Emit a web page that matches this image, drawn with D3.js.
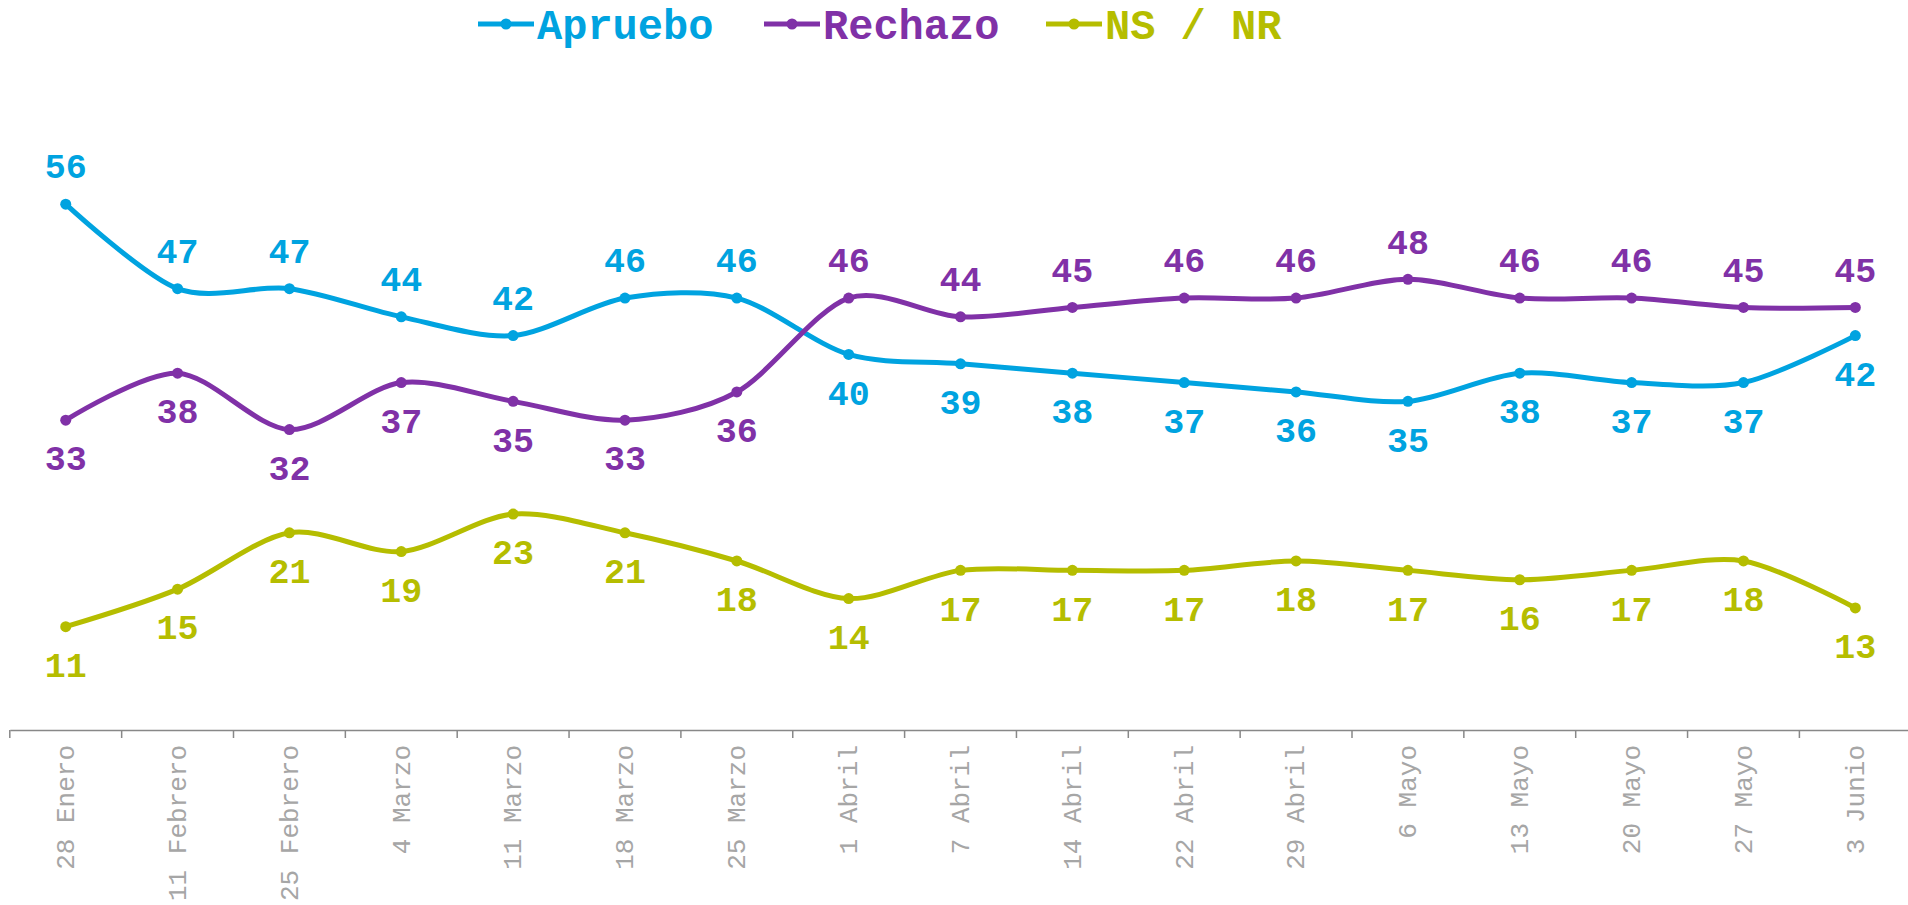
<!DOCTYPE html>
<html>
<head>
<meta charset="utf-8">
<script src="https://cdn.jsdelivr.net/npm/d3@7"></script>
<style>
  body { margin: 0; background: #fff; }
  svg { display: block; }
  text { font-family: "Liberation Mono", "Courier New", monospace; }
</style>
</head>
<body>
<svg width="1908" height="905"></svg>
<script>
var fechas = ["28 Enero", "11 Febrero", "25 Febrero", "4 Marzo", "11 Marzo", "18 Marzo", "25 Marzo",
  "1 Abril", "7 Abril", "14 Abril", "22 Abril", "29 Abril", "6 Mayo", "13 Mayo", "20 Mayo", "27 Mayo", "3 Junio"];
var apruebo = [56, 47, 47, 44, 42, 46, 46, 40, 39, 38, 37, 36, 35, 38, 37, 37, 42];
var rechazo = [33, 38, 32, 37, 35, 33, 36, 46, 44, 45, 46, 46, 48, 46, 46, 45, 45];
var nsnr = [11, 15, 21, 19, 23, 21, 18, 14, 17, 17, 17, 18, 17, 16, 17, 18, 13];

// label above (1) or below (-1) the point
var aprueboPos = [1, 1, 1, 1, 1, 1, 1, -1, -1, -1, -1, -1, -1, -1, -1, -1, -1];
var rechazoPos = [-1, -1, -1, -1, -1, -1, -1, 1, 1, 1, 1, 1, 1, 1, 1, 1, 1];
var nsnrPos = [-1, -1, -1, -1, -1, -1, -1, -1, -1, -1, -1, -1, -1, -1, -1, -1, -1];

var series = [
  { name: "Apruebo", values: apruebo, pos: aprueboPos, color: "#00a3e0" },
  { name: "Rechazo", values: rechazo, pos: rechazoPos, color: "#8031a7" },
  { name: "NS / NR", values: nsnr, pos: nsnrPos, color: "#b5bd00" }
];

var svg = d3.select('svg');

var scaleX = d3.scaleBand().domain(fechas).range([9.8, 9.8 + 17 * 111.85]);
var scaleY = d3.scaleLinear().domain([0, 60]).range([730, 730 - 60 * 9.39]);

function cx(i) { return scaleX(fechas[i]) + scaleX.bandwidth() / 2; }

// x axis
var axis = svg.append('g')
  .attr('transform', 'translate(0,730)')
  .call(d3.axisBottom(scaleX).tickSize(0).tickPadding(0));
axis.select('.domain').attr('stroke', '#888').attr('stroke-width', 1.5);
axis.selectAll('.tick text')
  .attr('transform', 'rotate(-90)')
  .attr('text-anchor', 'end')
  .attr('x', -15)
  .attr('y', 0)
  .attr('dy', '0.32em')
  .attr('fill', '#a6a6a6')
  .style('font-size', '26px');

// boundary ticks
axis.selectAll('.sep')
  .data(fechas)
  .enter()
  .append('line')
  .attr('class', 'sep')
  .attr('x1', function(d){ return scaleX(d); })
  .attr('x2', function(d){ return scaleX(d); })
  .attr('y1', 0)
  .attr('y2', 8)
  .attr('stroke', '#888')
  .attr('stroke-width', 1.5);

var line = d3.line()
  .x(function(d, i){ return cx(i); })
  .y(function(d){ return scaleY(d); })
  .curve(d3.curveCardinal.tension(0.1));

series.forEach(function(s){
  var g = svg.append('g');
  g.append('path')
    .attr('d', line(s.values))
    .attr('fill', 'none')
    .attr('stroke', s.color)
    .attr('stroke-width', 5);

  g.selectAll('circle')
    .data(s.values)
    .enter()
    .append('circle')
    .attr('cx', function(d, i){ return cx(i); })
    .attr('cy', function(d){ return scaleY(d); })
    .attr('r', 5.5)
    .attr('fill', s.color);

  g.selectAll('text')
    .data(s.values)
    .enter()
    .append('text')
    .attr('x', function(d, i){ return cx(i); })
    .attr('y', function(d, i){ return scaleY(d) - s.pos[i] * 38; })
    .attr('dy', '0.35em')
    .attr('text-anchor', 'middle')
    .attr('fill', s.color)
    .style('font-size', '35px')
    .style('font-weight', 'bold')
    .text(function(d){ return d; });
});

// legend
var legendX = [478, 764, 1046];
var legend = svg.selectAll('.legend')
  .data(series)
  .enter()
  .append('g')
  .attr('class', 'legend')
  .attr('transform', function(d, i){ return 'translate(' + legendX[i] + ',24)'; });

legend.append('line')
  .attr('x1', 0).attr('x2', 56)
  .attr('stroke', function(d){ return d.color; })
  .attr('stroke-width', 5);
legend.append('circle')
  .attr('cx', 28).attr('r', 5.5)
  .attr('fill', function(d){ return d.color; });
legend.append('text')
  .attr('x', 59)
  .attr('dy', '0.35em')
  .attr('fill', function(d){ return d.color; })
  .style('font-size', '42px')
  .style('font-weight', 'bold')
  .text(function(d){ return d.name; });
</script>
</body>
</html>
